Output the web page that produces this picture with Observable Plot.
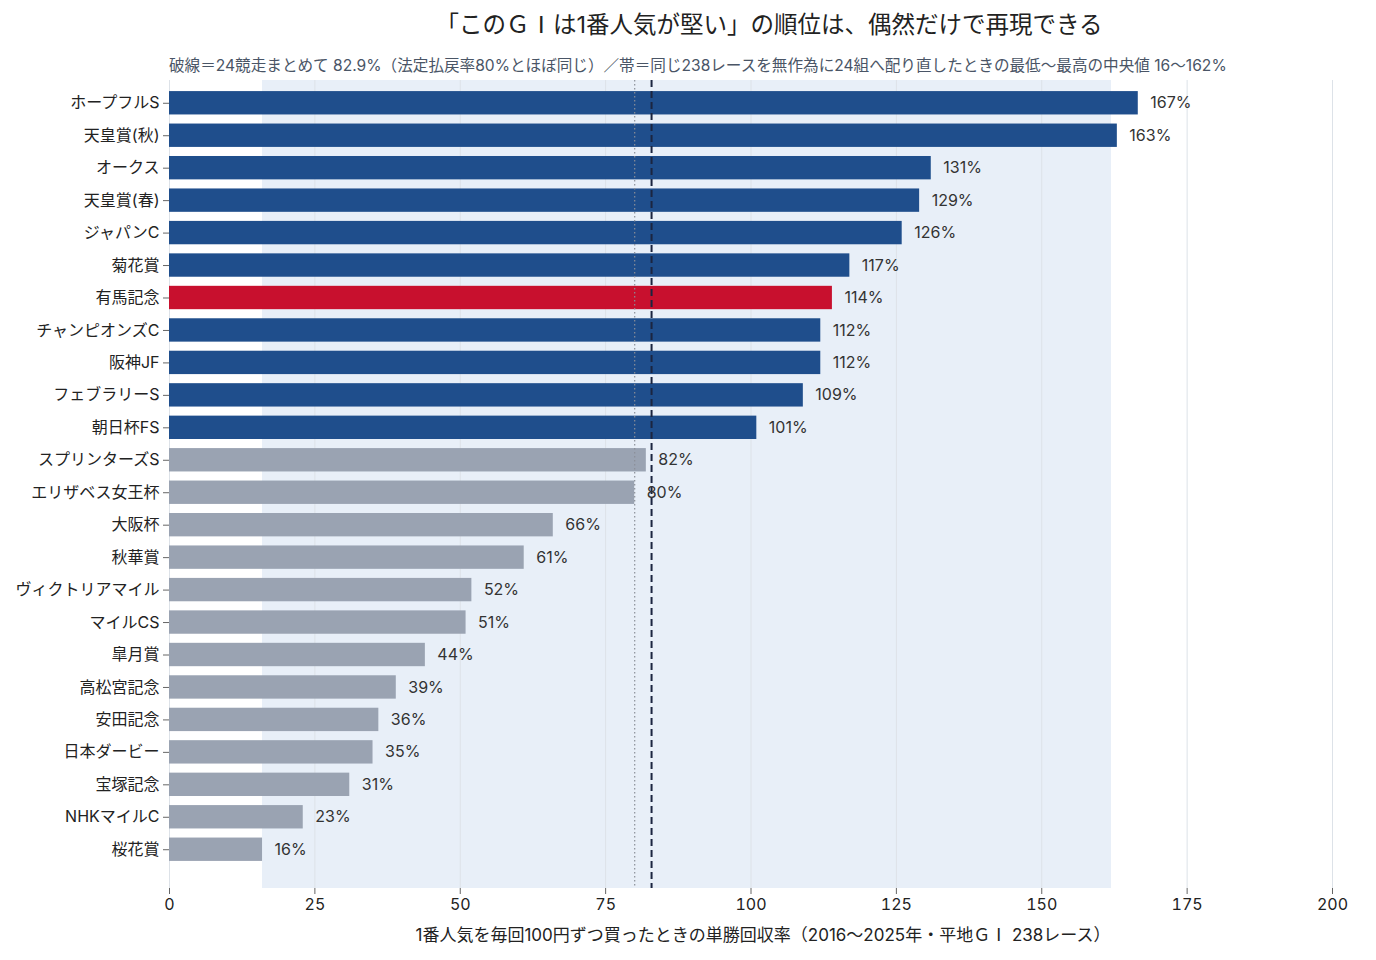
<!DOCTYPE html>
<html>
<head>
<meta charset="utf-8">
<script src="https://cdn.jsdelivr.net/npm/d3@7"></script>
<script src="https://cdn.jsdelivr.net/npm/@observablehq/plot@0.6"></script>
<style>
  html, body { margin: 0; padding: 0; background: #fff; }
  body { width: 1376px; font-family: Inter, "Noto Sans CJK JP", sans-serif; }
  #header { height: 70px; position: relative; }
  #title { position: absolute; top: 6px; left: 162px; right: 0; text-align: center; font-size: 23.5px; color: #222; line-height: 34px; }
  #subtitle { position: absolute; top: 55px; left: 169px; font-size: 15.6px; color: #4a5566; line-height: 22px; white-space: nowrap; }
  .cjk { font-family: "Noto Sans CJK JP", sans-serif; }
</style>
</head>
<body>
<div id="header">
  <div id="title">「この<span class="cjk">ＧⅠ</span>は1番人気が堅い」の順位は、偶然だけで再現できる</div>
  <div id="subtitle">破線＝24競走まとめて 82.9%（法定払戻率80%とほぼ同じ）／帯＝同じ238レースを無作為に24組へ配り直したときの最低〜最高の中央値 16〜162%</div>
</div>
<div id="chart"></div>
<script>
const races = ["ホープフルS","天皇賞(秋)","オークス","天皇賞(春)","ジャパンC","菊花賞","有馬記念","チャンピオンズC","阪神JF","フェブラリーS","朝日杯FS","スプリンターズS","エリザベス女王杯","大阪杯","秋華賞","ヴィクトリアマイル","マイルCS","皐月賞","高松宮記念","安田記念","日本ダービー","宝塚記念","NHKマイルC","桜花賞"];
const returns = [166.6,163,131,129,126,117,114,112,112,109,101,82,80,66,61,52,51,44,39,36,35,31,23,16];
const highlight = "有馬記念";
const pooled = 82.9;
const legalRate = 80;
const bandLow = 16;
const bandHigh = 162;
const xTicks = [0,25,50,75,100,125,150,175,200];
const xLabelHead = "1番人気を毎回100円ずつ買ったときの単勝回収率（2016〜2025年・平地";
const xLabelGrade = "ＧⅠ";
const xLabelTail = " 238レース）";
const xLabel = xLabelHead + xLabelGrade + xLabelTail;

const data = races.map((r, i) => ({race: r, value: returns[i]}));
const colorOf = d => d.race === highlight ? "#c8102e" : (d.value >= 100 ? "#1f4e8c" : "#9aa3b2");

const chart = Plot.plot({
  width: 1376,
  height: 890,
  marginTop: 10,
  marginBottom: 72,
  marginLeft: 169,
  marginRight: 44,
  style: {fontFamily: 'Inter, "Noto Sans CJK JP", sans-serif', fontSize: "15px", color: "#222", background: "#fff"},
  x: {domain: [0, 200], ticks: xTicks, label: xLabel, labelAnchor: "center", labelArrow: "none"},
  y: {domain: races, padding: 0.28, round: false, insetTop: 2, insetBottom: 18, label: null},
  marks: [
    Plot.rect([{lo: bandLow, hi: bandHigh}], {x1: "lo", x2: "hi", fill: "#e8eff8"}),
    Plot.gridX(xTicks, {stroke: "#dde2e8", strokeOpacity: 1, strokeWidth: 1}),
    Plot.barX(data, {y: "race", x: "value", fill: colorOf}),
    Plot.ruleX([legalRate], {stroke: "#8a8f98", strokeWidth: 1.2, strokeDasharray: "1.5,2.5"}),
    Plot.ruleX([pooled], {stroke: "#1b2540", strokeWidth: 2, strokeDasharray: "7,4"}),
    Plot.text(data, {y: "race", x: "value", text: d => Math.round(d.value) + "%", textAnchor: "start", dx: 12, fill: "#333", fontSize: 16}),
    Plot.axisY({tickSize: 6, tickPadding: 4, fontSize: 16, label: null, stroke: "#666"}),
    Plot.axisX({ticks: xTicks, tickSize: 6, tickPadding: 4, fontSize: 16, label: xLabel, labelAnchor: "center", labelArrow: "none", labelOffset: 52, stroke: "#666"})
  ]
});
// render the grade mark (ＧⅠ) in the CJK font, as in the reference
d3.select(chart).selectAll("text").each(function() {
  const t = d3.select(this);
  if (t.text() === xLabel) {
    t.text(null).attr("font-size", 17).attr("dx", 12);
    t.append("tspan").text(xLabelHead);
    t.append("tspan").attr("font-family", '"Noto Sans CJK JP", sans-serif').text(xLabelGrade);
    t.append("tspan").text(xLabelTail);
  }
});
document.getElementById("chart").appendChild(chart);
</script>
</body>
</html>
